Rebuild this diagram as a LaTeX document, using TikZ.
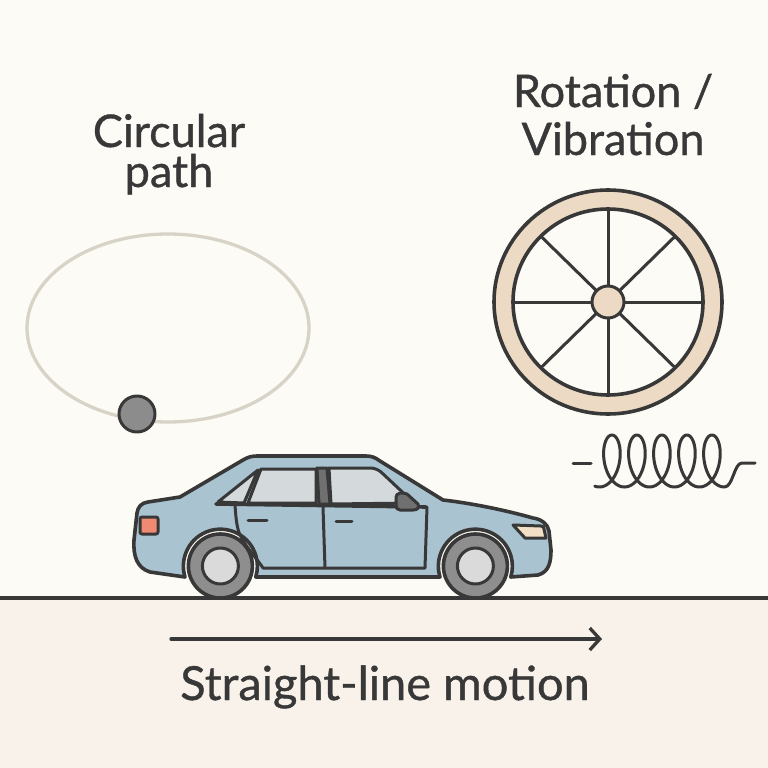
\documentclass[tikz,border=0pt]{standalone}
\usepackage{fontspec}
\setmainfont{Lato}
\newfontfamily\lblfont{Lato}[FakeBold=0.8]
\usetikzlibrary{arrows.meta}
\definecolor{bgtop}{HTML}{FDFBF6}
\definecolor{bgbot}{HTML}{F8F2EA}
\definecolor{ink}{HTML}{383838}
\definecolor{orbitc}{HTML}{D8D3C7}
\definecolor{ballc}{HTML}{8C8C8C}
\definecolor{rimc}{HTML}{ECDAC4}
\definecolor{carbody}{HTML}{A9C3D1}
\definecolor{glass}{HTML}{D4DADC}
\definecolor{tirec}{HTML}{8E8E8E}
\definecolor{hubc}{HTML}{DADADA}
\definecolor{pillarc}{HTML}{707070}
\definecolor{tailc}{HTML}{F08A72}
\definecolor{headc}{HTML}{F3DFC6}
\begin{document}
\begin{tikzpicture}[x=1pt,y=-1pt,line join=round,line cap=round,
  lbl/.style={font=\lblfont\fontsize{45}{50}\selectfont,text=ink,inner sep=0pt,anchor=base},
  outl/.style={draw=ink,line width=3.6pt},
  thinl/.style={draw=ink,line width=3pt}]
\useasboundingbox (0,0) rectangle (768,768);
% backgrounds
\fill[bgtop] (0,0) rectangle (768,598);
\fill[bgbot] (0,598) rectangle (768,768);
% texts
\node[lbl,align=center,font=\lblfont\fontsize{45}{40}\selectfont] (circ) at (169,187) {Circular\\path};
\node[lbl,align=center,font=\lblfont\fontsize{45}{48}\selectfont] (rot) at (613,155) {Rotation /\\Vibration};
\node[lbl,font=\lblfont\fontsize{47}{50}\selectfont] (lin) at (385,700) {Straight-line motion};
% orbit
\draw[orbitc,line width=3.3pt] (168,328) ellipse[x radius=141,y radius=94];
\draw[draw=ink,line width=3pt,fill=ballc] (137,414) circle[radius=18];
% wheel
\draw[outl,fill=rimc] (608,302) ellipse[x radius=114,y radius=112];
\draw[outl,fill=bgtop] (608,302) ellipse[x radius=95,y radius=93];
\foreach \a in {0,45,...,315}
  \draw[thinl] (608,302) -- ({608+95*cos(\a)},{302+93*sin(\a)});
\draw[thinl,fill=rimc] (608,302) circle[radius=16];
% spring
\draw[thinl] (573,463) -- (591,463);
\draw[thinl] plot[domain=-15:1800,samples=320,smooth]
  ({599.4+0.06946*\x+14*sin(\x)},{461+26*cos(\x)})
  .. controls (733,487) and (734,463) .. (742,463) -- (755,463);
% ground
\coordinate (gl) at (0,598);
\coordinate (gr) at (768,598);
\draw[ink,line width=3.5pt] (gl) -- (gr);
% arrow
\coordinate (as) at (171,639);
\coordinate (ae) at (602,639);
\draw[ink,line width=3.3pt,-{Straight Barb[length=10pt,width=22pt]}] (as) -- (ae);
% car body
\draw[outl,fill=carbody] (185,577) arc[start angle=163,end angle=377,radius=37]
  -- (440,577) arc[start angle=163,end angle=377,radius=37]
  -- (538,575) .. controls (549,572) and (551,562) .. (551,550)
  -- (549,531) .. controls (548,524) and (541,519) .. (533,518)
  .. controls (505,510) and (470,503) .. (443,500)
  -- (380,461) .. controls (375,457.5) and (372,456) .. (366,456)
  -- (257,456) .. controls (252,456) and (248,457) .. (243,460)
  -- (180,497) -- (148,502) .. controls (141,503) and (138,507) .. (137,513)
  -- (134,540) .. controls (133,556) and (137,568) .. (150,572) -- cycle;
% windows
\draw[thinl,fill=glass] (218,502) -- (258,470) -- (244,503) -- cycle;
\draw[thinl,fill=glass] (248,503) -- (261,469) -- (316,469) -- (316,503) -- cycle;
\draw[thinl,fill=pillarc] (317,468) -- (327,468) -- (330,504) -- (319,504) -- cycle;
\draw[thinl,fill=glass] (329,468) -- (369,468) .. controls (374,468) and (377,469) .. (381,472) -- (414,503) -- (331,504) -- cycle;
\draw[outl] (216,504) -- (426,507);
\draw[thinl,fill=pillarc] (396,497) .. controls (396,493) and (402,492) .. (407,494) -- (418,504) .. controls (420,508) and (417,510) .. (413,510) -- (400,510) .. controls (397,510) and (396,508) .. (396,505) -- cycle;
% doors
\draw[thinl] (235,505) .. controls (236,520) and (237,528) .. (240,535) .. controls (248,550) and (258,560) .. (263,568) -- (425,568) -- (427,507);
\draw[thinl] (323,507) -- (325,568);
\draw[thinl] (248,520) -- (267,520);
\draw[thinl] (336,521) -- (352,521);
% lights
\draw[thinl,fill=tailc,rounded corners=2pt] (140,517) rectangle (158,534);
\draw[thinl,fill=headc] (513,525) -- (541,526) .. controls (543,526) and (544,527) .. (544,529) -- (546,538) -- (525,538) -- cycle;
% tires
\draw[outl,fill=tirec] (220.4,566) circle[radius=32];
\draw[thinl,fill=hubc] (220.4,566) circle[radius=18];
\draw[outl,fill=tirec] (475.4,566) circle[radius=32];
\draw[thinl,fill=hubc] (475.4,566) circle[radius=18];
\end{tikzpicture}
\end{document}
